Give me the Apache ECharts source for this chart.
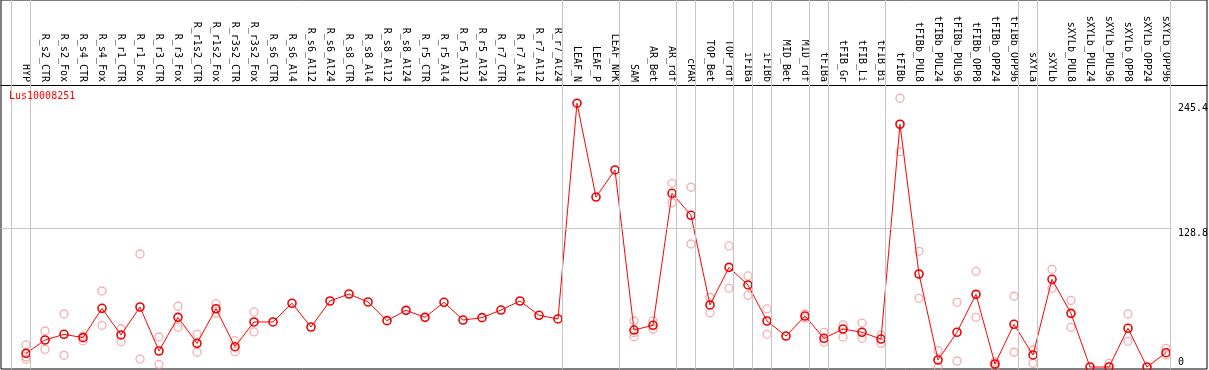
<!DOCTYPE html>
<html>
<head>
<meta charset="utf-8">
<script src="https://cdn.jsdelivr.net/npm/echarts@6/dist/echarts.min.js"></script>
<style>
html,body{margin:0;padding:0;background:#fff;}
#chart{width:1209px;height:370px;}
</style>
</head>
<body>
<div id="chart"></div>
<script>
const chartTitle = 'Lus10008251';
const categories = ['HYP','R_s2_CTR','R_s2_Fox','R_s4_CTR','R_s4_Fox','R_r1_CTR','R_r1_Fox','R_r3_CTR','R_r3_Fox','R_r1s2_CTR','R_r1s2_Fox','R_r3s2_CTR','R_r3s2_Fox','R_s6_CTR','R_s6_Al4','R_s6_Al12','R_s6_Al24','R_s8_CTR','R_s8_Al4','R_s8_Al12','R_s8_Al24','R_r5_CTR','R_r5_Al4','R_r5_Al12','R_r5_Al24','R_r7_CTR','R_r7_Al4','R_r7_Al12','R_r7_Al24','LEAF_N','LEAF_P','LEAF_NPK','SAM','AR_Bet','AR_rdf','cPAR','TOP_Bet','TOP_rdf','iFIBa','iFIBb','MID_Bet','MID_rdf','tFIBa','tFIB_Gr','tFIB_Li','tFIB_Bi','tFIBb','tFIBb_PUL8','tFIBb_PUL24','tFIBb_PUL96','tFIBb_OPP8','tFIBb_OPP24','tFIBb_OPP96','sXYLa','sXYLb','sXYLb_PUL8','sXYLb_PUL24','sXYLb_PUL96','sXYLb_OPP8','sXYLb_OPP24','sXYLb_OPP96'];
const meanValues = [12.7,25.1,30.4,27.3,54.6,29.8,55.8,14.9,46.2,22.0,
  54.2,18.9,41.9,41.9,59.3,37.2,61.4,67.9,60.5,43.1,
  52.7,46.2,60.2,43.7,45.9,53.0,61.4,48.1,44.7,245.4,
  158.1,183.3,34.4,38.8,161.6,141.1,57.7,92.7,76.3,42.8,
  28.8,47.4,26.7,35.3,32.3,26.0,225.8,86.5,6.5,32.3,
  67.6,2.8,39.7,11.2,81.6,49.9,0,0,36.0,0,13.3];
const rep1 = [20.5,33.5,49.3,28.8,70.7,35.6,105.1,27.9,56.5,30.4,
  58.9,24.5,51.2,null,null,null,null,null,null,null,
  null,null,null,null,null,null,null,null,null,null,
  null,null,42.8,42.8,170.9,167.2,64.8,112.6,84.7,54.0,
  null,49.3,32.3,39.1,40.9,29.8,250.0,107.6,15.2,60.2,
  89.0,4.9,65.8,15.8,90.9,62.0,null,3.4,49.3,null,17.4];
const rep2 = [9.6,16.4,10.9,24.5,38.8,23.5,7.4,2.5,36.9,13.7,
  49.9,14.3,32.6,null,null,null,null,null,null,null,
  null,null,null,null,null,null,null,null,null,null,
  null,null,31.9,35.1,152.8,114.4,50.5,73.2,66.7,30.4,
  null,45.5,23.0,27.9,26.7,22.0,200.3,63.9,0,5.6,
  46.2,0.3,13.7,3.4,73.2,36.9,null,null,23.9,null,11.2];
const rep3 = [7.2,null,null,null,null,null,null,null,null,null,
  null,null,null,null,null,null,null,null,null,null,
  null,null,null,null,null,null,null,null,null,null,
  null,null,28.2,null,null,null,null,null,null,null,
  null,null,null,null,null,null,null,null,null,null,
  null,null,null,null,null,null,null,null,null,null,null];
const yTickUpper = [128.8, 245.4];
const yTickZero = [0];
const groupBreaks = [-0.76,0.24,28.24,31.24,34.24,35.24,37.24,38.24,39.24,41.24,42.24,45.24,52.24,53.24,60.24];

const X_MIN = -1.3158, X_MAX = 62.158;
const Y_MIN = -1.86, Y_MAX = 341.4;
const mono = 'DejaVu Sans Mono';

const meanData = meanValues.map((v, i) => [i, v]);
const repData = [];
[rep1, rep2, rep3].forEach(arr => arr.forEach((v, i) => { if (v !== null) repData.push([i, v]); }));

const markData = groupBreaks.map(v => ({ xAxis: v }));
markData.push([{ coord: [X_MIN, yTickUpper[0]] }, { coord: [groupBreaks[groupBreaks.length - 1], yTickUpper[0]] }]);

const chart = echarts.init(document.getElementById('chart'), null, { renderer: 'canvas' });
chart.setOption({
  animation: false,
  backgroundColor: '#fff',
  title: {
    text: chartTitle, left: 9, top: 91.5, padding: 0,
    textStyle: { fontFamily: mono, fontSize: 10, fontWeight: 'normal', color: '#ff0000' }
  },
  grid: {
    left: 1, right: 2, top: 0, bottom: 1, containLabel: false, outerBoundsMode: 'none',
    show: true, borderColor: '#000', borderWidth: 1, backgroundColor: 'transparent'
  },
  xAxis: {
    type: 'value', min: X_MIN, max: X_MAX, position: 'top', offset: -85,
    axisLine: { show: true, onZero: false, lineStyle: { color: '#000', width: 1 } },
    axisTick: { show: false },
    splitLine: { show: false },
    axisLabel: {
      customValues: categories.map((_, i) => i),
      formatter: v => categories[Math.round(v)],
      rotate: 90, margin: 3, hideOverlap: false,
      fontFamily: mono, fontSize: 10, color: '#000'
    }
  },
  yAxis: [
    {
      type: 'value', min: Y_MIN, max: Y_MAX, position: 'right', offset: -29,
      axisLine: { show: false }, axisTick: { show: false }, splitLine: { show: false },
      axisLabel: {
        customValues: yTickUpper, formatter: v => String(v),
        verticalAlign: 'top', align: 'left', margin: 0,
        fontFamily: mono, fontSize: 10, color: '#000'
      }
    },
    {
      type: 'value', min: Y_MIN, max: Y_MAX, position: 'right', offset: -29,
      axisLine: { show: false }, axisTick: { show: false }, splitLine: { show: false },
      axisLabel: {
        customValues: yTickZero, formatter: v => String(v),
        verticalAlign: 'bottom', align: 'left', margin: 0,
        fontFamily: mono, fontSize: 10, color: '#000'
      }
    }
  ],
  series: [
    {
      type: 'scatter', data: repData, yAxisIndex: 0, z: 2,
      symbol: 'circle', symbolSize: 8,
      itemStyle: { color: 'rgba(255,255,255,0)', borderColor: '#f09a9a', borderWidth: 1.3 },
      silent: true,
      markLine: {
        silent: true, symbol: 'none', animation: false,
        label: { show: false },
        lineStyle: { color: '#c4c4c4', width: 1, type: 'solid' },
        data: markData
      }
    },
    {
      type: 'line', data: meanData, yAxisIndex: 0, z: 3,
      symbol: 'circle', symbolSize: 8, showAllSymbol: true,
      lineStyle: { color: '#ff0000', width: 1 },
      itemStyle: { color: 'rgba(255,255,255,0)', borderColor: '#ee0000', borderWidth: 1.6 },
      silent: true
    }
  ]
});
</script>
</body>
</html>
